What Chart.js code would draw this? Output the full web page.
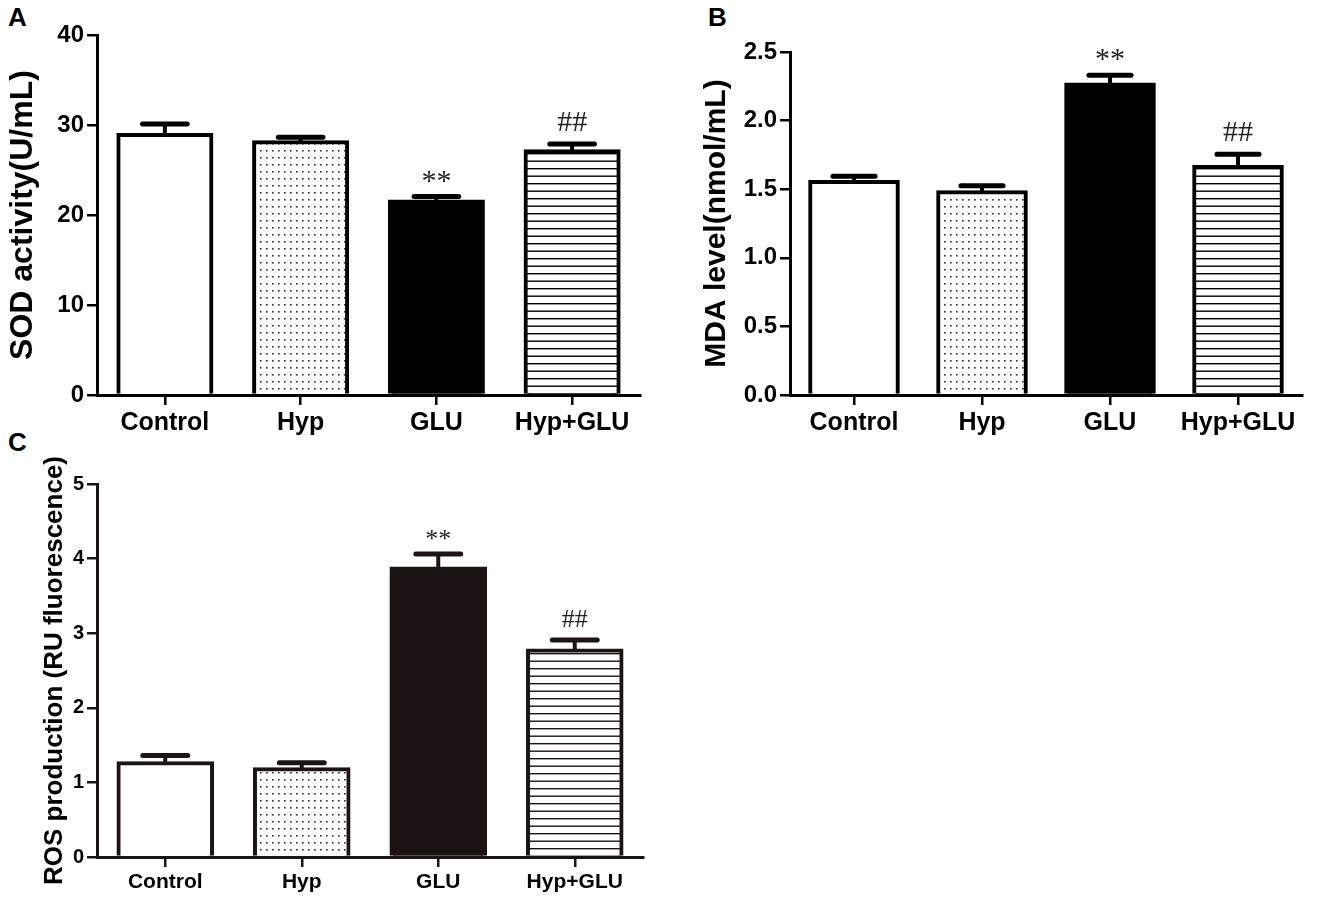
<!DOCTYPE html>
<html><head><meta charset="utf-8">
<script src="https://cdn.jsdelivr.net/npm/chart.js@4.4.0/dist/chart.umd.min.js"></script>
<style>
html,body{margin:0;padding:0;background:#fff;width:1320px;height:901px;overflow:hidden;position:relative}
canvas{position:absolute}
.lbl{position:absolute;font:bold 26px "Liberation Sans",Arial,sans-serif;color:#000;line-height:1}
</style></head><body>
<div class="lbl" style="left:8px;top:4px">A</div>
<div class="lbl" style="left:708px;top:4px">B</div>
<div class="lbl" style="left:8px;top:429px">C</div>
<canvas id="cA" width="660" height="440" style="left:0;top:0;width:660px;height:440px"></canvas>
<canvas id="cB" width="660" height="440" style="left:660px;top:0;width:660px;height:440px"></canvas>
<canvas id="cC" width="660" height="461" style="left:0;top:440px;width:660px;height:461px"></canvas>
<script>
// ---- data ----
const categories = ['Control', 'Hyp', 'GLU', 'Hyp+GLU'];
const sodMean = [29.0, 28.2, 21.6, 27.2];
const sodErr  = [1.1, 0.45, 0.45, 0.7];
const mdaMean = [1.56, 1.485, 2.27, 1.67];
const mdaErr  = [0.035, 0.04, 0.06, 0.085];
const rosMean = [1.27, 1.19, 3.88, 2.78];
const rosErr  = [0.09, 0.075, 0.18, 0.13];
const sigMarks = ['', '', '**', '##'];
const sodTicks = [0, 10, 20, 30, 40];
const mdaTicks = [0.0, 0.5, 1.0, 1.5, 2.0, 2.5];
const rosTicks = [0, 1, 2, 3, 4, 5];

const FONT = '"Liberation Sans", Arial, sans-serif';

function dotPattern(color) {
  const c = document.createElement('canvas'); c.width = 6; c.height = 7;
  const x = c.getContext('2d');
  x.fillStyle = '#fff'; x.fillRect(0, 0, 6, 7);
  x.fillStyle = color; x.fillRect(2, 3, 1.6, 1.6);
  return x.createPattern(c, 'repeat');
}
function linePattern(color) {
  const c = document.createElement('canvas'); c.width = 4; c.height = 15;
  const x = c.getContext('2d');
  x.fillStyle = '#fff'; x.fillRect(0, 0, 4, 15);
  x.fillStyle = color; x.fillRect(0, 3, 4, 1.4); x.fillRect(0, 10.5, 4, 1.4);
  return x.createPattern(c, 'repeat');
}

const errPlugin = {
  id: 'err',
  afterDatasetsDraw(chart, args, o) {
    const ctx = chart.ctx, meta = chart.getDatasetMeta(0), ys = chart.scales.y;
    const vals = chart.data.datasets[0].data;
    ctx.save();
    meta.data.forEach((bar, i) => {
      const x = bar.x, top = bar.y;
      const yc = ys.getPixelForValue(vals[i] + o.errors[i]);
      const half = bar.width * 0.47 / 2;
      ctx.strokeStyle = o.color;
      ctx.lineCap = 'butt'; ctx.lineWidth = 4;
      ctx.beginPath(); ctx.moveTo(x, top + 2); ctx.lineTo(x, yc); ctx.stroke();
      ctx.lineCap = 'round'; ctx.lineWidth = 5;
      ctx.beginPath(); ctx.moveTo(x - half, yc); ctx.lineTo(x + half, yc); ctx.stroke();
      const s = o.sig[i];
      if (s) {
        ctx.font = o.sigSize + 'px "Liberation Serif", "Times New Roman", serif';
        ctx.fillStyle = '#222';
        ctx.textAlign = 'center'; ctx.textBaseline = 'alphabetic';
        ctx.fillText(s, x, yc - (s === '**' ? 7 : 13));
      }
    });
    ctx.restore();
  }
};

function makeChart(id, cfg) {
  const ink = cfg.ink;
  const fills = ['#fff', dotPattern('#333'), ink, linePattern(ink)];
  return new Chart(document.getElementById(id), {
    type: 'bar',
    data: {
      labels: categories,
      datasets: [{
        data: cfg.values,
        backgroundColor: fills,
        borderColor: ink,
        borderWidth: cfg.bw,
        inflateAmount: 1,
        categoryPercentage: 1,
        barPercentage: 0.7
      }]
    },
    plugins: [errPlugin],
    options: {
      responsive: false,
      animation: false,
      devicePixelRatio: 1,
      layout: { padding: { left: 0, top: cfg.padTop, right: cfg.padRight, bottom: 0 } },
      plugins: {
        legend: { display: false },
        tooltip: { enabled: false },
        err: { errors: cfg.errors, sig: sigMarks, color: ink, sigSize: cfg.sigSize }
      },
      scales: {
        x: {
          afterFit: s => { s.height = cfg.xH; },
          grid: { display: true, drawOnChartArea: false, drawTicks: true, offset: false, tickLength: 10, lineWidth: 2.5, color: ink },
          border: { display: true, width: 3, color: ink },
          ticks: { color: '#000', padding: 3, font: { family: FONT, size: cfg.xFont, weight: 'bold' } }
        },
        y: {
          min: cfg.ticks[0], max: cfg.ticks[cfg.ticks.length - 1],
          afterFit: s => { s.width = cfg.yW; },
          afterBuildTicks: s => { s.ticks = cfg.ticks.map(v => ({ value: v })); },
          grid: { display: true, drawOnChartArea: false, drawTicks: true, tickLength: 10, lineWidth: 2.5, color: ink },
          border: { display: true, width: 3, color: ink },
          ticks: {
            color: '#000', padding: 3,
            font: { family: FONT, size: cfg.yFont, weight: 'bold' },
            callback: v => cfg.fmt(v)
          },
          title: {
            display: true, text: cfg.title, color: '#000',
            font: { family: FONT, size: cfg.titleSize, weight: 'bold', lineHeight: 1.2 },
            padding: { top: cfg.titlePad, bottom: 0 }
          }
        }
      }
    }
  });
}

makeChart('cA', {
  values: sodMean, errors: sodErr, ticks: sodTicks, fmt: v => String(v),
  title: 'SOD activity(U/mL)', titleSize: 32, titlePad: 4,
  ink: '#000', bw: 4, padTop: 35, padRight: 20, yW: 97, xH: 45,
  xFont: 25, yFont: 24, sigSize: 30
});
makeChart('cB', {
  values: mdaMean, errors: mdaErr, ticks: mdaTicks, fmt: v => v.toFixed(1),
  title: 'MDA level(nmol/mL)', titleSize: 30, titlePad: 39,
  ink: '#000', bw: 4, padTop: 52, padRight: 18, yW: 130, xH: 45,
  xFont: 25, yFont: 24, sigSize: 30
});
makeChart('cC', {
  values: rosMean, errors: rosErr, ticks: rosTicks, fmt: v => String(v),
  title: 'ROS production (RU fluorescence)', titleSize: 26, titlePad: 39,
  ink: '#1c1412', bw: 4, padTop: 44, padRight: 17, yW: 97, xH: 44,
  xFont: 21, yFont: 20, sigSize: 26
});
</script>
</body></html>
